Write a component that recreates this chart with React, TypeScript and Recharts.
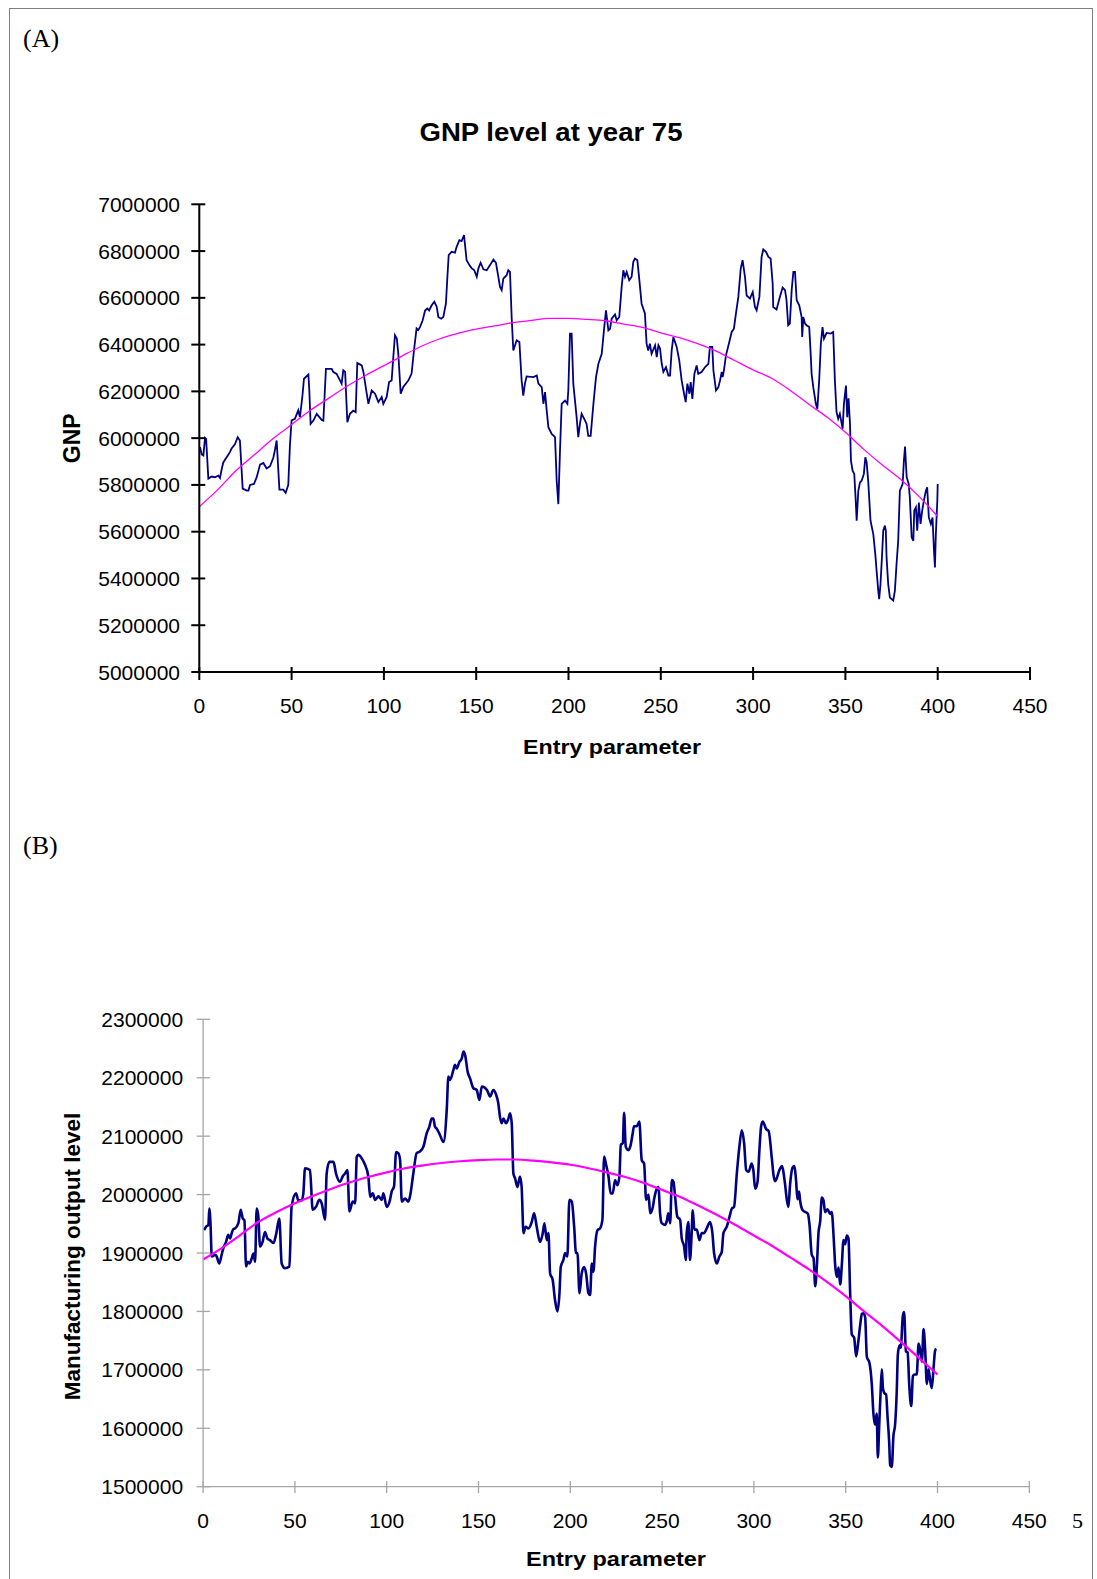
import React from 'react';
import { LineChart, Line, XAxis, YAxis } from 'recharts';

const SANS = '"Liberation Sans", Arial, sans-serif';
const SERIF = '"Liberation Serif", "Times New Roman", serif';

// Axis ticks
const entryTicks = [0, 50, 100, 150, 200, 250, 300, 350, 400, 450];
const gnpTicks = [5000000, 5200000, 5400000, 5600000, 5800000, 6000000, 6200000, 6400000, 6600000, 6800000, 7000000];
const mfgTicks = [1500000, 1600000, 1700000, 1800000, 1900000, 2000000, 2100000, 2200000, 2300000];

// [entry parameter, GNP in thousands]
const gnpSeries: [number, number][] = [
  [0.4, 5961], [1.3, 5930], [2.2, 5926], [3.1, 6001], [3.7, 5997], [4.9, 5827], [6.7, 5836], [8.5, 5833], [10.3, 5840], [11.2, 5830],
  [12.2, 5870], [13.0, 5896], [14.8, 5918], [16.6, 5940], [17.5, 5956], [19.3, 5974], [20.8, 6004], [22.0, 5990], [23.5, 5784], [25.7, 5776],
  [26.6, 5776], [27.5, 5800], [29.6, 5804], [31.1, 5833], [32.9, 5887], [34.7, 5894], [36.5, 5870], [38.3, 5880], [40.1, 5916], [41.0, 5950],
  [41.9, 5990], [43.4, 5780], [45.5, 5780], [46.8, 5766], [48.2, 5800], [49.1, 5970], [50.0, 6076], [51.8, 6083], [53.6, 6119], [54.5, 6090],
  [55.8, 6175], [56.7, 6254], [59.1, 6272], [59.6, 6204], [60.3, 6061], [61.8, 6075], [63.6, 6104], [66.3, 6078], [67.2, 6075], [68.6, 6296],
  [71.7, 6296], [72.6, 6283], [74.4, 6275], [77.1, 6233], [78.0, 6290], [79.0, 6283], [80.2, 6068], [81.6, 6104], [83.4, 6118], [84.7, 6111],
  [85.6, 6321], [88.0, 6311], [88.9, 6283], [90.7, 6190], [91.6, 6147], [93.4, 6204], [95.2, 6190], [97.0, 6154], [98.8, 6176], [99.7, 6147],
  [101.5, 6176], [102.8, 6240], [104.2, 6247], [105.1, 6347], [106.0, 6440], [107.0, 6426], [107.8, 6361], [109.1, 6190], [110.5, 6219], [113.3, 6247],
  [115.0, 6276], [116.3, 6376], [117.7, 6469], [118.6, 6462], [119.6, 6476], [121.0, 6504], [122.3, 6546], [123.5, 6554], [124.5, 6546], [125.9, 6568],
  [127.3, 6583], [128.6, 6562], [129.5, 6518], [131.0, 6511], [132.2, 6518], [133.6, 6576], [134.4, 6690], [135.1, 6783], [136.7, 6797], [138.5, 6793],
  [139.4, 6818], [140.9, 6847], [142.1, 6843], [143.4, 6868], [144.8, 6761], [146.3, 6740], [147.6, 6726], [148.9, 6719], [150.3, 6690], [151.2, 6726],
  [152.4, 6750], [153.9, 6722], [155.7, 6718], [157.5, 6740], [159.3, 6764], [160.7, 6750], [162.0, 6690], [162.9, 6647], [163.8, 6633], [164.7, 6682],
  [166.5, 6697], [167.4, 6718], [168.3, 6711], [169.2, 6518], [170.1, 6375], [171.9, 6418], [173.4, 6411], [174.6, 6247], [175.5, 6182], [176.4, 6233],
  [177.3, 6264], [181.0, 6261], [182.8, 6268], [183.7, 6233], [185.5, 6218], [186.4, 6147], [187.3, 6197], [188.2, 6118], [189.1, 6047], [190.9, 6018],
  [192.7, 6004], [193.6, 5818], [194.5, 5718], [195.4, 5947], [196.3, 6147], [198.1, 6161], [199.4, 6147], [199.9, 6204], [200.8, 6447], [201.7, 6447],
  [202.6, 6233], [204.4, 6090], [205.3, 6004], [206.2, 6061], [207.1, 6104], [209.0, 6075], [209.8, 6061], [210.7, 6010], [212.0, 6010], [213.5, 6147],
  [214.9, 6261], [216.2, 6318], [218.0, 6361], [219.2, 6461], [220.3, 6547], [221.6, 6461], [222.5, 6468], [223.4, 6511], [225.2, 6529], [226.1, 6504],
  [227.5, 6518], [228.8, 6647], [229.7, 6718], [230.6, 6690], [231.5, 6711], [232.9, 6675], [234.2, 6690], [235.1, 6754], [236.0, 6768], [237.3, 6761],
  [238.4, 6675], [239.6, 6575], [241.4, 6533], [242.3, 6404], [243.2, 6375], [244.1, 6404], [245.0, 6361], [246.9, 6397], [247.8, 6347], [248.7, 6397],
  [249.6, 6383], [250.5, 6318], [251.4, 6283], [252.8, 6304], [254.1, 6268], [255.0, 6268], [255.9, 6375], [256.8, 6432], [258.6, 6390], [260.0, 6333],
  [261.3, 6247], [262.6, 6190], [263.5, 6154], [264.4, 6233], [265.5, 6190], [266.2, 6240], [267.1, 6168], [268.2, 6275], [269.4, 6311], [270.3, 6275],
  [272.1, 6283], [274.0, 6304], [275.8, 6318], [276.6, 6390], [277.9, 6390], [278.5, 6290], [279.9, 6204], [281.2, 6218], [282.1, 6247], [283.0, 6283],
  [283.5, 6261], [284.2, 6290], [285.3, 6354], [287.1, 6411], [288.4, 6454], [289.6, 6468], [290.7, 6532], [292.0, 6604], [293.3, 6725], [294.3, 6761],
  [295.6, 6690], [296.5, 6610], [298.3, 6597], [299.8, 6625], [301.0, 6561], [301.9, 6547], [303.4, 6604], [304.6, 6775], [305.5, 6807], [307.0, 6797],
  [308.3, 6775], [309.5, 6768], [310.6, 6661], [310.9, 6561], [312.7, 6550], [314.5, 6604], [316.0, 6644], [317.3, 6633], [318.1, 6590], [319.0, 6483],
  [319.9, 6490], [320.9, 6633], [321.8, 6711], [322.7, 6711], [323.6, 6590], [325.0, 6568], [326.3, 6518], [326.6, 6433], [327.2, 6518], [328.1, 6490],
  [329.0, 6483], [330.4, 6475], [331.1, 6375], [331.7, 6275], [332.6, 6218], [334.0, 6147], [334.8, 6125], [335.8, 6247], [336.7, 6404], [337.6, 6475],
  [338.4, 6425], [339.8, 6450], [342.0, 6447], [343.4, 6454], [344.3, 6247], [345.2, 6111], [346.1, 6083], [347.0, 6104], [348.5, 6040], [349.2, 6147],
  [350.3, 6225], [351.0, 6090], [351.7, 6170], [352.5, 6061], [353.0, 5904], [353.9, 5861], [354.8, 5847], [355.5, 5747], [356.1, 5647], [357.0, 5775],
  [357.9, 5811], [358.8, 5818], [360.0, 5847], [360.8, 5918], [361.5, 5897], [362.4, 5811], [363.6, 5647], [365.1, 5590], [366.2, 5504], [366.9, 5433],
  [367.8, 5347], [368.3, 5311], [369.0, 5375], [369.8, 5490], [370.5, 5604], [371.4, 5626], [371.9, 5604], [372.3, 5490], [373.2, 5375], [374.1, 5318],
  [375.9, 5306], [376.8, 5347], [377.7, 5461], [378.6, 5561], [379.5, 5775], [381.0, 5804], [381.7, 5904], [382.3, 5964], [383.2, 5833], [384.3, 5804],
  [384.9, 5747], [385.9, 5576], [386.8, 5561], [387.3, 5690], [388.2, 5704], [388.9, 5604], [389.8, 5725], [390.7, 5633], [391.6, 5690], [392.5, 5733],
  [393.6, 5775], [394.3, 5790], [395.2, 5661], [396.3, 5633], [397.2, 5661], [398.0, 5518], [398.5, 5447], [399.0, 5590], [399.8, 5733], [400.0, 5804],
];

// [entry parameter, GNP trend in thousands]
const gnpTrend: [number, number][] = [
  [0, 5707], [10, 5780], [20, 5862], [30, 5930], [40, 5998], [50, 6058], [60, 6118], [70, 6170], [80, 6222], [90, 6268],
  [100, 6310], [110, 6352], [120, 6392], [130, 6424], [140, 6448], [150, 6466], [160, 6480], [170, 6494], [180, 6504], [190, 6512],
  [200, 6512], [210, 6508], [220, 6502], [230, 6488], [240, 6474], [250, 6450], [260, 6430], [270, 6404], [280, 6372], [290, 6332],
  [300, 6292], [310, 6256], [320, 6205], [330, 6146], [340, 6090], [350, 6025], [360, 5952], [370, 5885], [380, 5823], [390, 5750],
  [400, 5665],
];

// [entry parameter, manufacturing output in thousands]
const mfgSeries: [number, number][] = [
  [0.5, 1939], [1.6, 1945], [2.9, 1948], [3.4, 1976], [4.1, 1945], [4.7, 1894], [6.5, 1897], [7.4, 1894], [8.8, 1882], [10.1, 1897],
  [11.0, 1908], [12.5, 1919], [13.7, 1931], [14.7, 1925], [15.6, 1934], [16.5, 1941], [17.4, 1942], [19.2, 1951], [20.5, 1974], [21.6, 1959],
  [22.5, 1956], [23.4, 1877], [24.3, 1885], [25.2, 1882], [26.5, 1891], [27.4, 1899], [28.3, 1885], [29.2, 1976], [30.1, 1962], [31.0, 1911],
  [32.4, 1919], [33.7, 1936], [35.0, 1925], [36.4, 1922], [38.3, 1917], [39.7, 1931], [41.5, 1959], [42.8, 1882], [44.6, 1874], [47.0, 1877],
  [48.2, 1979], [50.6, 2002], [51.9, 1990], [53.7, 1990], [54.6, 2002], [55.5, 2045], [58.2, 2042], [59.7, 1974], [61.5, 1979], [63.3, 1991],
  [64.6, 1985], [66.4, 1957], [67.3, 2036], [68.8, 2056], [71.0, 2056], [72.4, 2036], [74.6, 2022], [76.0, 2031], [77.3, 2036], [78.6, 2042],
  [79.7, 1971], [81.5, 1988], [82.8, 1985], [83.7, 2065], [84.6, 2068], [86.4, 2062], [88.2, 2051], [90.0, 2031], [91.0, 1996], [92.4, 2002],
  [93.7, 1991], [95.5, 1997], [97.3, 1991], [98.2, 2002], [100.0, 1979], [101.8, 1991], [102.7, 2005], [104.0, 2014], [105.1, 2073], [106.3, 2071],
  [107.3, 2059], [108.2, 1988], [110.0, 1993], [111.8, 1988], [112.7, 1997], [114.5, 2036], [116.3, 2071], [118.2, 2074], [120.0, 2082], [121.8, 2105],
  [123.2, 2116], [124.5, 2130], [125.4, 2130], [126.3, 2116], [127.2, 2113], [129.0, 2102], [130.9, 2090], [132.7, 2145], [133.6, 2202], [134.5, 2196],
  [136.3, 2213], [137.2, 2222], [138.1, 2216], [139.6, 2227], [140.9, 2233], [141.8, 2245], [142.7, 2239], [144.1, 2210], [145.4, 2199], [147.2, 2182],
  [149.0, 2179], [150.5, 2162], [151.8, 2185], [154.6, 2179], [156.3, 2168], [158.1, 2179], [159.6, 2171], [160.8, 2156], [161.7, 2133], [162.6, 2122],
  [163.6, 2130], [165.0, 2122], [166.3, 2130], [167.2, 2139], [168.1, 2122], [169.0, 2036], [169.9, 2028], [171.2, 2013], [172.6, 2031], [173.5, 2013],
  [174.5, 1934], [175.7, 1945], [177.2, 1942], [179.0, 1953], [180.3, 1968], [181.7, 1945], [183.5, 1919], [185.0, 1934], [185.9, 1951], [187.2, 1922],
  [188.1, 1934], [189.0, 1865], [190.4, 1854], [191.7, 1819], [193.0, 1800], [194.1, 1831], [194.8, 1876], [196.2, 1888], [197.2, 1900], [198.4, 1894],
  [199.5, 1991], [200.8, 1988], [202.1, 1945], [203.1, 1900], [203.9, 1900], [205.0, 1831], [206.2, 1865], [207.5, 1876], [208.6, 1865], [209.9, 1831],
  [210.8, 1828], [211.7, 1882], [212.6, 1868], [213.5, 1911], [214.8, 1939], [216.2, 1942], [217.5, 1957], [218.4, 2065], [219.5, 2051], [220.8, 2031],
  [222.0, 2002], [223.1, 2002], [224.4, 2025], [225.7, 2016], [226.8, 2033], [227.5, 2085], [228.6, 2088], [229.3, 2140], [230.2, 2082], [231.6, 2076],
  [232.9, 2085], [234.0, 2105], [234.7, 2117], [236.2, 2117], [237.6, 2125], [238.9, 2059], [240.2, 2053], [241.3, 1991], [242.6, 2000], [243.5, 1968],
  [245.0, 1979], [245.6, 1991], [247.1, 2010], [248.0, 2013], [248.9, 1968], [249.8, 1951], [251.6, 1948], [252.5, 1954], [253.4, 1968], [254.4, 1951],
  [255.3, 2025], [256.2, 2022], [257.1, 1996], [258.3, 1962], [259.8, 1957], [260.7, 1925], [262.0, 1911], [262.9, 1888], [263.4, 1934], [264.3, 1953],
  [265.2, 1888], [266.1, 1934], [266.7, 1973], [267.6, 1940], [268.9, 1940], [270.3, 1922], [271.6, 1934], [272.9, 1934], [274.3, 1942], [276.1, 1953],
  [277.4, 1934], [278.3, 1900], [279.8, 1882], [281.2, 1894], [282.5, 1902], [283.4, 1934], [284.3, 1940], [285.2, 1945], [286.7, 1962], [288.0, 1976],
  [289.2, 1979], [290.7, 2036], [292.1, 2082], [293.4, 2110], [294.7, 2087], [295.8, 2042], [297.1, 2039], [298.8, 2053], [299.7, 2042], [300.7, 2010],
  [302.0, 2022], [303.0, 2076], [303.9, 2116], [304.8, 2125], [306.7, 2112], [308.0, 2109], [309.8, 2061], [310.7, 2033], [311.6, 2023], [313.9, 2042],
  [315.2, 2049], [317.0, 2017], [317.9, 1992], [318.8, 1979], [319.7, 2017], [321.0, 2046], [321.9, 2049], [323.0, 2023], [323.7, 1992], [324.6, 2005],
  [325.2, 1989], [326.6, 1973], [329.4, 1967], [330.3, 1948], [331.5, 1897], [332.5, 1891], [333.4, 1843], [334.3, 1878], [335.2, 1935], [336.1, 1954],
  [337.0, 1995], [337.9, 1990], [338.8, 1970], [340.1, 1975], [341.5, 1967], [342.4, 1970], [343.4, 1929], [344.3, 1878], [345.2, 1859], [346.1, 1875],
  [347.0, 1846], [347.9, 1880], [348.8, 1922], [349.7, 1915], [350.6, 1930], [351.5, 1925], [352.4, 1834], [353.3, 1761], [354.6, 1755], [355.7, 1723],
  [357.0, 1752], [357.9, 1777], [358.8, 1796], [359.7, 1797], [360.6, 1790], [361.5, 1723], [363.0, 1711], [364.2, 1676], [365.1, 1625], [366.0, 1606],
  [366.9, 1625], [367.5, 1550], [368.2, 1600], [369.1, 1669], [369.7, 1701], [370.3, 1668], [371.1, 1660], [372.0, 1658], [372.8, 1619], [373.7, 1575],
  [374.2, 1537], [375.1, 1534], [376.0, 1587], [376.9, 1606], [377.8, 1663], [378.4, 1726], [379.3, 1742], [380.0, 1738], [381.1, 1792], [381.8, 1799],
  [382.8, 1732], [383.7, 1730], [384.7, 1669], [385.7, 1638], [386.6, 1689], [387.5, 1692], [388.7, 1692], [389.7, 1745], [390.6, 1733], [391.5, 1714],
  [392.4, 1770], [393.3, 1733], [394.2, 1676], [395.1, 1701], [396.0, 1682], [396.9, 1669], [397.8, 1701], [398.7, 1733], [399.3, 1736],
];

// [entry parameter, manufacturing output trend in thousands]
const mfgTrend: [number, number][] = [
  [0, 1889], [10, 1908], [20, 1930], [30, 1953], [40, 1970], [50, 1985], [60, 1998], [70, 2010], [80, 2021], [90, 2030],
  [100, 2038], [110, 2045], [120, 2050], [130, 2054], [140, 2057], [150, 2059], [160, 2060], [170, 2060], [180, 2058], [190, 2055],
  [200, 2051], [210, 2045], [220, 2038], [230, 2030], [240, 2020], [250, 2008], [260, 1996], [270, 1981], [280, 1965], [290, 1948],
  [300, 1930], [310, 1912], [320, 1892], [330, 1872], [340, 1850], [350, 1826], [360, 1800], [370, 1775], [380, 1748], [390, 1720],
  [400, 1692],
];

const toRows = (pairs: [number, number][]) => pairs.map(([x, v]) => ({ x, y: v * 1000 }));

type TickLook = { gap: number; outer: number; inner: number; stroke: string; width: number };

// Tick marks crossing the axis line, with the value label beside them
const makeYTick = (look: TickLook) => (props: any) => {
  const { x, y, payload } = props;
  const ax = x + look.gap;
  return (
    <g>
      <line x1={ax - look.outer} x2={ax + look.inner} y1={y} y2={y} stroke={look.stroke} strokeWidth={look.width} />
      <text x={x} y={y} textAnchor="end" dominantBaseline="central" fontFamily={SANS} fontSize={21} fill="#000">
        {payload.value}
      </text>
    </g>
  );
};

const makeXTick = (look: TickLook) => (props: any) => {
  const { x, y, payload } = props;
  const ay = y - look.gap;
  return (
    <g>
      <line x1={x} x2={x} y1={ay - look.inner} y2={ay + look.outer} stroke={look.stroke} strokeWidth={look.width} />
      <text x={x} y={y} textAnchor="middle" dominantBaseline="central" fontFamily={SANS} fontSize={21} fill="#000">
        {payload.value}
      </text>
    </g>
  );
};

const gnpYTick = makeYTick({ gap: 19.3, outer: 8, inner: 6, stroke: '#000', width: 2 });
const gnpXTick = makeXTick({ gap: 33, outer: 8, inner: 5, stroke: '#000', width: 2 });
const mfgYTick = makeYTick({ gap: 20, outer: 6.5, inner: 7, stroke: '#a6a6a6', width: 1.3 });
const mfgXTick = makeXTick({ gap: 33.3, outer: 6.3, inner: 5.7, stroke: '#a6a6a6', width: 1.3 });

export default function App() {
  const gnpRows = toRows(gnpSeries);
  const gnpTrendRows = toRows(gnpTrend);
  const mfgRows = toRows(mfgSeries);
  const mfgTrendRows = toRows(mfgTrend);

  return (
    <div style={{ position: 'absolute', left: 0, top: 0, width: 1097, height: 1579, overflow: 'hidden', background: '#fff' }}>
      {/* page frame */}
      <div
        style={{
          position: 'absolute', left: 9, top: 8, width: 1082, height: 1700,
          borderLeft: '1px solid #808080', borderTop: '1px solid #808080', borderRight: '1px solid #808080',
        }}
      />

      {/* (A) GNP panel */}
      <div style={{ position: 'absolute', left: 0, top: 0 }}>
        <LineChart width={1097} height={780} margin={{ top: 204.3, right: 67, bottom: 48, left: 79.3 }}>
          <XAxis
            type="number" dataKey="x" domain={[0, 450]} ticks={entryTicks} interval={0} height={60}
            tickLine={false} tickSize={0} tickMargin={33} axisLine={{ stroke: '#000', strokeWidth: 2 }} tick={gnpXTick}
          />
          <YAxis
            type="number" domain={[5000000, 7000000]} ticks={gnpTicks} interval={0} width={120}
            tickLine={false} tickSize={0} tickMargin={19.3} axisLine={{ stroke: '#000', strokeWidth: 2 }} tick={gnpYTick}
          />
          <Line data={gnpRows} dataKey="y" type="linear" stroke="#000080" strokeWidth={1.8} dot={false} activeDot={false} isAnimationActive={false} />
          <Line data={gnpTrendRows} dataKey="y" type="monotone" stroke="#ff00ff" strokeWidth={1.3} dot={false} activeDot={false} isAnimationActive={false} />
        </LineChart>
      </div>

      {/* (B) manufacturing output panel */}
      <div style={{ position: 'absolute', left: 0, top: 800 }}>
        <LineChart width={1097} height={779} margin={{ top: 219.3, right: 67.7, bottom: 32.3, left: 83.1 }}>
          <XAxis
            type="number" dataKey="x" domain={[0, 450]} ticks={entryTicks} interval={0} height={60}
            tickLine={false} tickSize={0} tickMargin={33.3} axisLine={{ stroke: '#a6a6a6', strokeWidth: 1.3 }} tick={mfgXTick}
          />
          <YAxis
            type="number" domain={[1500000, 2300000]} ticks={mfgTicks} interval={0} width={120}
            tickLine={false} tickSize={0} tickMargin={20} axisLine={{ stroke: '#a6a6a6', strokeWidth: 1.3 }} tick={mfgYTick}
          />
          <Line data={mfgRows} dataKey="y" type="monotone" stroke="#000080" strokeWidth={2.6} dot={false} activeDot={false} isAnimationActive={false} />
          <Line data={mfgTrendRows} dataKey="y" type="monotone" stroke="#ff00ff" strokeWidth={2.2} dot={false} activeDot={false} isAnimationActive={false} />
        </LineChart>
      </div>

      {/* labels */}
      <svg width={1097} height={1579} style={{ position: 'absolute', left: 0, top: 0, pointerEvents: 'none' }}>
        <text x={23} y={46.7} fontFamily={SERIF} fontSize={26} fill="#000">(A)</text>
        <text x={23} y={854} fontFamily={SERIF} fontSize={26} fill="#000">(B)</text>
        <text x={551} y={141} textAnchor="middle" fontFamily={SANS} fontWeight="bold" fontSize={25}
          textLength={263} lengthAdjust="spacingAndGlyphs" fill="#000">GNP level at year 75</text>
        <text x={612} y={754} textAnchor="middle" fontFamily={SANS} fontWeight="bold" fontSize={21}
          textLength={178} lengthAdjust="spacingAndGlyphs" fill="#000">Entry parameter</text>
        <text x={616} y={1566} textAnchor="middle" fontFamily={SANS} fontWeight="bold" fontSize={21}
          textLength={180} lengthAdjust="spacingAndGlyphs" fill="#000">Entry parameter</text>
        <text transform="translate(80,438.3) rotate(-90)" textAnchor="middle" fontFamily={SANS} fontWeight="bold" fontSize={23} fill="#000">GNP</text>
        <text transform="translate(80,1256.5) rotate(-90)" textAnchor="middle" fontFamily={SANS} fontWeight="bold" fontSize={22.5} fill="#000">Manufacturing output level</text>
        <text x={1072} y={1528} fontFamily={SERIF} fontSize={22} fill="#000">5</text>
      </svg>
    </div>
  );
}
